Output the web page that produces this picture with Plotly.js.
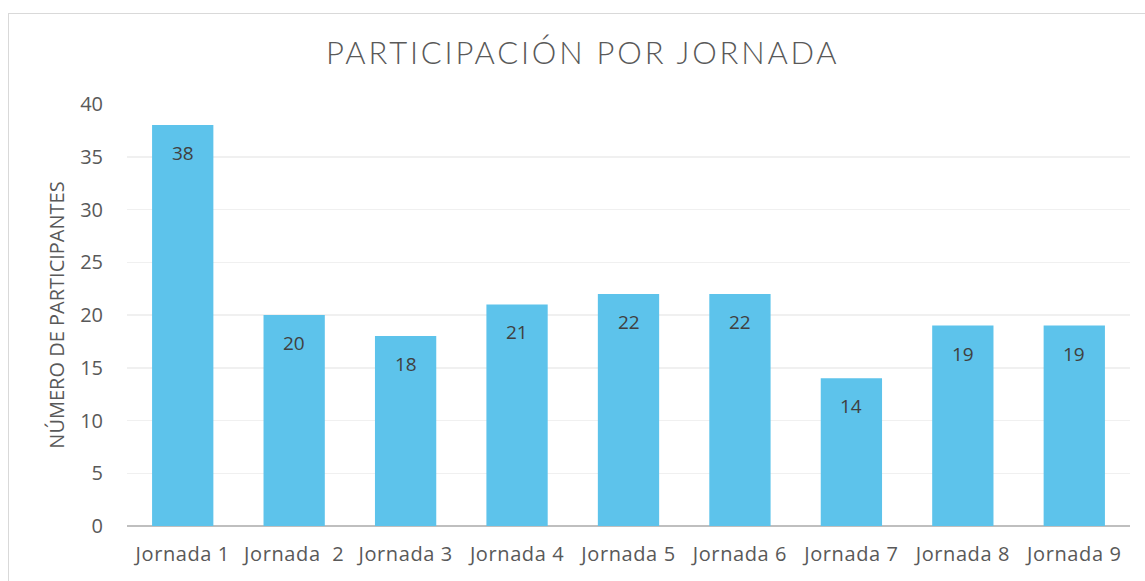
<!DOCTYPE html>
<html>
<head>
<meta charset="utf-8">
<script src="https://cdn.plot.ly/plotly-3.0.1.min.js"></script>
<style>
  html, body { margin: 0; padding: 0; background: #fff; }
  #frame { position: absolute; left: 8px; top: 13px; width: 1150px; height: 580px; border: 1px solid #d9d9d9; }
  #chart { position: absolute; left: 0; top: 0; width: 1145px; height: 581px; }
  .gtitle { letter-spacing: 2.8px; font-weight: 300 !important; }
  .xtick text { letter-spacing: 0.6px; }
</style>
</head>
<body>
<div id="frame"></div>
<div id="chart"></div>
<script>
const jornadas = ["Jornada 1", "Jornada\u00a0 2", "Jornada 3", "Jornada 4", "Jornada 5", "Jornada 6", "Jornada 7", "Jornada 8", "Jornada 9"];
const participantes = [38, 20, 18, 21, 22, 22, 14, 19, 19];

const traza = {
  x: jornadas,
  y: participantes,
  type: 'bar',
  marker: { color: '#5dc3eb' },
  hoverinfo: 'x+y'
};

// etiquetas de valor dentro de la barra, un poco por debajo del borde superior
const etiquetas = jornadas.map((j, i) => ({
  x: j,
  y: participantes[i],
  yanchor: 'middle',
  yshift: -28,
  text: String(participantes[i]),
  showarrow: false,
  font: { family: 'Open Sans, sans-serif', size: 19, color: '#404040' }
}));

Plotly.newPlot('chart', [traza], {
  width: 1145,
  height: 581,
  paper_bgcolor: 'rgba(0,0,0,0)',
  plot_bgcolor: 'rgba(0,0,0,0)',
  margin: { l: 127, r: 15, t: 104, b: 55 },
  bargap: 0.45,
  showlegend: false,
  annotations: etiquetas,
  title: {
    text: 'PARTICIPACIÓN POR JORNADA',
    x: 0.509, xanchor: 'center',
    y: 0.908, yanchor: 'middle',
    font: { family: 'Lato, sans-serif', size: 31, color: '#595959', weight: 300 }
  },
  xaxis: {
    type: 'category',
    tickfont: { family: 'Open Sans, sans-serif', size: 20, color: '#595959' },
    ticklabelstandoff: 14,
    showline: false,
    showgrid: false,
    ticks: ''
  },
  yaxis: {
    range: [0, 40],
    dtick: 5,
    tickfont: { family: 'Open Sans, sans-serif', size: 20, color: '#595959' },
    ticklabelstandoff: 23,
    gridcolor: '#f0f0f0',
    gridwidth: 1.5,
    zeroline: true,
    zerolinecolor: '#bfbfbf',
    zerolinewidth: 2.5,
    ticks: '',
    title: {
      text: 'NÚMERO DE PARTICIPANTES',
      standoff: 10,
      font: { family: 'Open Sans, sans-serif', size: 20, color: '#595959' }
    }
  }
}, { displayModeBar: false, staticPlot: true });
</script>
</body>
</html>
